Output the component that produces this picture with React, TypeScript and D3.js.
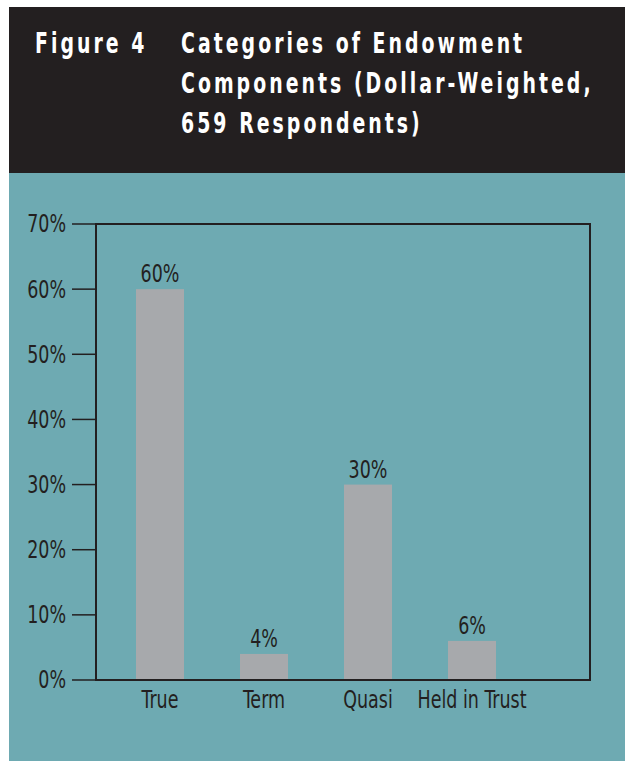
import React from "react";
import * as d3 from "d3";

const categories = ["True", "Term", "Quasi", "Held in Trust"];
const values = [60, 4, 30, 6];
const yTicks = [0, 10, 20, 30, 40, 50, 60, 70];
const figureLabel = "Figure 4";
const titleLines = ["Categories of Endowment", "Components (Dollar-Weighted,", "659 Respondents)"];

const W = 625;
const H = 761;
const FONT = "'DejaVu Sans Condensed', 'DejaVu Sans', sans-serif";
const DARK = "#231f20";
const TEAL = "#6eaab2";
const BAR = "#a7a9ac";

function NText(props: {
  x: number;
  y: number;
  sx: number;
  children: React.ReactNode;
  [k: string]: any;
}) {
  const { x, y, sx, children, ...rest } = props;
  return (
    <text transform={`translate(${x},${y}) scale(${sx},1)`} {...rest}>
      {children}
    </text>
  );
}

export default function App() {
  const frame = { left: 96, right: 590, top: 224, bottom: 680 };
  const y = d3.scaleLinear().domain([0, 70]).range([frame.bottom, frame.top]);
  const x = d3
    .scaleBand<string>()
    .domain(categories)
    .range([108, 524])
    .paddingInner(56 / 104)
    .paddingOuter(28 / 104);

  const LS = 0.81;
  const TS = 0.75;

  return (
    <svg
      width={W}
      height={H}
      style={{ position: "absolute", left: 0, top: 0 }}
      fontFamily={FONT}
    >
      <rect x={9} y={7} width={W - 9} height={166} fill={DARK} />
      <rect x={9} y={173} width={W - 9} height={H - 173} fill={TEAL} />

      <NText x={35} y={53} sx={TS} fill="#fff" fontSize={28} fontWeight="bold" letterSpacing={4.05}>
        {figureLabel}
      </NText>
      {titleLines.map((t, i) => (
        <NText key={i} x={181} y={53 + i * 40} sx={TS} fill="#fff" fontSize={28} fontWeight="bold" letterSpacing={4.05}>
          {t}
        </NText>
      ))}

      {categories.map((c, i) => (
        <rect
          key={c}
          x={x(c)}
          y={y(values[i])}
          width={x.bandwidth()}
          height={y(0) - y(values[i])}
          fill={BAR}
        />
      ))}

      {yTicks.map((t) => (
        <g key={t}>
          <line x1={72} x2={frame.left} y1={y(t)} y2={y(t)} stroke={DARK} strokeWidth={1.5} />
          <NText x={66} y={y(t)} sx={LS} dy="0.35em" textAnchor="end" fontSize={24} fill={DARK}>
            {t}%
          </NText>
        </g>
      ))}

      <rect
        x={frame.left}
        y={frame.top}
        width={frame.right - frame.left}
        height={frame.bottom - frame.top}
        fill="none"
        stroke={DARK}
        strokeWidth={2}
      />

      {categories.map((c, i) => (
        <NText
          key={c}
          x={(x(c) as number) + x.bandwidth() / 2}
          y={y(values[i]) - 7}
          sx={LS}
          textAnchor="middle"
          fontSize={24}
          fill={DARK}
        >
          {values[i]}%
        </NText>
      ))}

      {categories.map((c) => (
        <NText
          key={c}
          x={(x(c) as number) + x.bandwidth() / 2}
          y={708}
          sx={LS}
          textAnchor="middle"
          fontSize={24}
          fill={DARK}
        >
          {c}
        </NText>
      ))}
    </svg>
  );
}
